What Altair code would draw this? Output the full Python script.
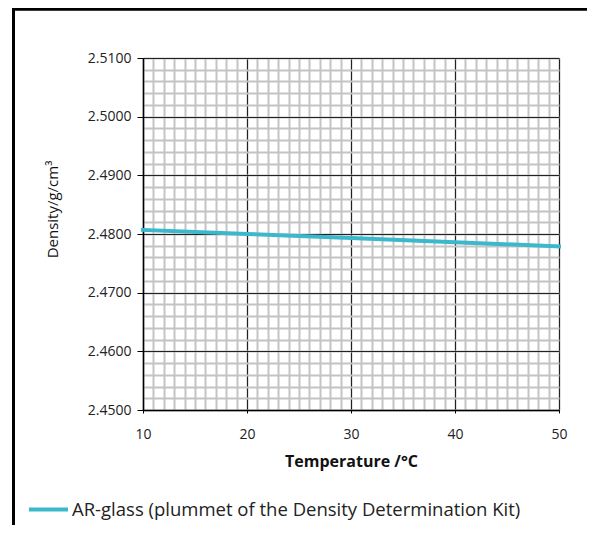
import altair as alt
import pandas as pd

temperature = [10, 20, 30, 40, 50]
density = [2.4807, 2.4800, 2.4793, 2.4786, 2.4779]
series_name = "AR-glass (plummet of the Density Determination Kit)"

x_major = [10, 20, 30, 40, 50]
x_minor = list(range(10, 51))
y_major = [2.45, 2.46, 2.47, 2.48, 2.49, 2.50, 2.51]
y_minor = [round(2.45 + 0.002 * i, 3) for i in range(31)]

df = pd.DataFrame({"T": temperature, "D": density, "S": [series_name] * len(temperature)})

FONT = "Open Sans"
LINE_COLOR = "#3cb8cc"

xs = alt.Scale(domain=[10, 50], nice=False, zero=False)
ys = alt.Scale(domain=[2.45, 2.51], nice=False, zero=False)

minor = alt.Chart(df).mark_line(opacity=0).encode(
    x=alt.X("T:Q", scale=xs, axis=alt.Axis(values=x_minor, grid=True, gridColor="#c4c4c4", gridWidth=2,
                                          labels=False, ticks=False, domain=False, title=None, orient="bottom")),
    y=alt.Y("D:Q", scale=ys, axis=alt.Axis(values=y_minor, grid=True, gridColor="#c4c4c4", gridWidth=2,
                                          labels=False, ticks=False, domain=False, title=None, orient="left")),
)

main = alt.Chart(df).mark_line(strokeWidth=4, strokeCap="square").encode(
    x=alt.X("T:Q", scale=xs, axis=alt.Axis(values=x_major, grid=True, gridColor="#222", gridWidth=1,
                                          format="d", title="Temperature /°C", orient="bottom",
                                          tickSize=3, tickColor="#000", domainColor="#000", domainWidth=1.5,
                                          labelFlush=False,
                                          labelFont=FONT, labelFontSize=14, labelColor="#222", labelPadding=14,
                                          titleFont=FONT, titleFontSize=16, titleFontWeight="bold",
                                          titleColor="#111", titlePadding=12)),
    y=alt.Y("D:Q", scale=ys, axis=alt.Axis(values=y_major, grid=True, gridColor="#222", gridWidth=1,
                                          format=".4f", title="Density/g/cm³", orient="left",
                                          tickSize=6, tickColor="#000", domainColor="#000", domainWidth=1.5,
                                          labelFlush=False,
                                          labelFont=FONT, labelFontSize=14, labelColor="#222", labelPadding=6,
                                          titleFont=FONT, titleFontSize=15, titleFontWeight="normal",
                                          titleColor="#111", titleX=-91, titleY=151,
                                          titleAlign="center", titleBaseline="middle", titleAngle=270)),
    color=alt.Color("S:N", scale=alt.Scale(domain=[series_name], range=[LINE_COLOR]),
                    legend=alt.Legend(title=None, orient="none", legendX=-116, legendY=430,
                                      symbolType="stroke", symbolSize=1521, symbolStrokeWidth=4,
                                      labelLimit=0,
                                      labelFont=FONT, labelFontSize=18.5, labelColor="#222", labelOffset=2)),
)

frame_left = alt.Chart(df).mark_rule(color="#000", strokeWidth=2.5).encode(
    x=alt.value(-129.5), y=alt.value(-50), y2=alt.value(470)
)
frame_top = alt.Chart(df).mark_rule(color="#000", strokeWidth=2.5).encode(
    x=alt.value(-131), x2=alt.value(450), y=alt.value(-49)
)

chart = alt.layer(minor, main, frame_left, frame_top).resolve_axis(
    x="independent", y="independent"
).properties(
    width=416, height=352,
    autosize=alt.AutoSizeParams(type="none"),
    padding={"left": 135, "top": 50, "right": 28, "bottom": 115},
).configure_view(stroke="#000", strokeWidth=1.5).configure(background="white")

chart.save("out.html", embed_options={"renderer": "svg", "actions": False})
